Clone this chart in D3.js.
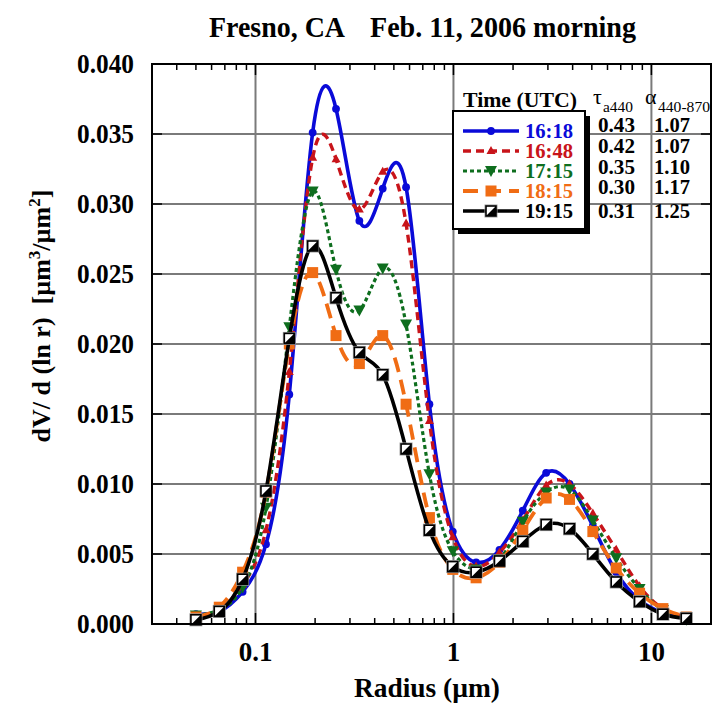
<!DOCTYPE html>
<html><head><meta charset="utf-8">
<script src="https://cdn.jsdelivr.net/npm/d3@7"></script>
<style>body{margin:0;background:#fff} svg{display:block} text{font-family:"Liberation Serif","Times New Roman",serif;} .pre{white-space:pre}</style>
</head><body><svg id="c" width="713" height="706"></svg>
<script>
// ---- data ----
const radius = [0.05, 0.065604, 0.086077, 0.112939, 0.148184, 0.194429, 0.255105, 0.334716, 0.439173, 0.576227, 0.756052, 0.991996, 1.301571, 1.707757, 2.240702, 2.939966, 3.857452, 5.06126, 6.640745, 8.713145, 11.432287, 15.0];
const timeLabels = ["16:18", "16:48", "17:15", "18:15", "19:15"];
const v1618 = [0.0007, 0.0009, 0.0023, 0.0057, 0.0164, 0.0351, 0.0368, 0.0288, 0.0311, 0.0312, 0.0157, 0.0066, 0.0044, 0.0053, 0.0081, 0.0108, 0.0100, 0.0070, 0.0037, 0.0017, 0.0008, 0.0004];
const v1648 = [0.0006, 0.0010, 0.0028, 0.0067, 0.0180, 0.0333, 0.0332, 0.0296, 0.0323, 0.0286, 0.0145, 0.0062, 0.0041, 0.0051, 0.0074, 0.0099, 0.0100, 0.0079, 0.0053, 0.0027, 0.0011, 0.0005];
const v1715 = [0.0006, 0.0010, 0.0026, 0.0083, 0.0212, 0.0309, 0.0253, 0.0224, 0.0254, 0.0214, 0.0107, 0.0052, 0.0039, 0.0046, 0.0073, 0.0094, 0.0096, 0.0074, 0.0047, 0.0025, 0.0010, 0.0003];
const v1815 = [0.0005, 0.0012, 0.0037, 0.0094, 0.0200, 0.0251, 0.0206, 0.0186, 0.0206, 0.0157, 0.0076, 0.0039, 0.0033, 0.0044, 0.0067, 0.0090, 0.0089, 0.0066, 0.0040, 0.0022, 0.0011, 0.0005];
const v1915 = [0.0003, 0.0009, 0.0032, 0.0095, 0.0204, 0.0270, 0.0233, 0.0194, 0.0178, 0.0125, 0.0067, 0.0041, 0.0037, 0.0045, 0.0059, 0.0071, 0.0068, 0.0050, 0.0030, 0.0016, 0.0007, 0.0004];
const tauValues = ["0.43", "0.42", "0.35", "0.30", "0.31"];
const alphaValues = ["1.07", "1.07", "1.10", "1.17", "1.25"];
const yTicks = [0, 0.005, 0.010, 0.015, 0.020, 0.025, 0.030, 0.035, 0.040];
const xMajorTicks = [0.1, 1, 10];
const xMinorTicks = [0.04,0.05,0.06,0.07,0.08,0.09,0.2,0.3,0.4,0.5,0.6,0.7,0.8,0.9,2,3,4,5,6,7,8,9];

// ---- styles ----
const allValues = [v1618, v1648, v1715, v1815, v1915];
const colors = ["#0a0ad8", "#c8141a", "#0e6e1e", "#f06c14", "#000000"];
const dashes = [null, "8,5", "4,3", "15,8", null];
const widths = [3.6, 3.4, 3.2, 3.8, 3.6];
const markers = ["circle", "triUp", "triDown", "square", "halfSquare"];

const svg = d3.select("#c");
const L = 152, R = 711, T = 64, B = 624;
const x = d3.scaleLog().domain([0.03, 20]).range([L, R]);
const y = d3.scaleLinear().domain([0, 0.04]).range([B, T]);

function txt(g, str, px, py, opts) {
  const t = g.append("text").attr("x", px).attr("y", py).text(str)
    .attr("font-size", opts.size).attr("font-weight", opts.weight || "bold")
    .attr("text-anchor", opts.anchor || "start").attr("fill", opts.fill || "#000");
  if (opts.len) t.attr("textLength", opts.len).attr("lengthAdjust", "spacingAndGlyphs");
  return t;
}

// grid
const grid = svg.append("g").attr("stroke", "#7a7a7a").attr("stroke-width", 2);
yTicks.forEach(v => { if (v > 0 && v < 0.04) grid.append("line").attr("x1", L).attr("x2", R).attr("y1", y(v)).attr("y2", y(v)); });
xMajorTicks.forEach(v => grid.append("line").attr("x1", x(v)).attr("x2", x(v)).attr("y1", T).attr("y2", B));

// ticks
const tk = svg.append("g").attr("stroke", "#000").attr("stroke-width", 1.5);
xMinorTicks.forEach(v => {
  tk.append("line").attr("x1", x(v)).attr("x2", x(v)).attr("y1", B).attr("y2", B - 6);
  tk.append("line").attr("x1", x(v)).attr("x2", x(v)).attr("y1", T).attr("y2", T + 6);
});
xMajorTicks.forEach(v => {
  tk.append("line").attr("x1", x(v)).attr("x2", x(v)).attr("y1", B).attr("y2", B - 11);
  tk.append("line").attr("x1", x(v)).attr("x2", x(v)).attr("y1", T).attr("y2", T + 11);
});
yTicks.forEach(v => {
  tk.append("line").attr("x1", L).attr("x2", L + 10).attr("y1", y(v)).attr("y2", y(v));
  tk.append("line").attr("x1", R).attr("x2", R - 10).attr("y1", y(v)).attr("y2", y(v));
});

// curves
const line = d3.line().x(d => x(d[0])).y(d => y(d[1])).curve(d3.curveNatural);
const plot = svg.append("g");
function marker(g, type, cx, cy, col) {
  if (type === "circle") g.append("circle").attr("cx", cx).attr("cy", cy).attr("r", 3.9).attr("fill", col);
  else if (type === "triUp") g.append("path").attr("d", `M${cx},${cy-5}L${cx+4.5},${cy+3}L${cx-4.5},${cy+3}Z`).attr("fill", col);
  else if (type === "triDown") g.append("path").attr("d", `M${cx-6},${cy-5}L${cx+6},${cy-5}L${cx},${cy+6}Z`).attr("fill", col);
  else if (type === "square") g.append("rect").attr("x", cx-5.5).attr("y", cy-5.5).attr("width", 11).attr("height", 11).attr("fill", col);
  else {
    g.append("rect").attr("x", cx-6).attr("y", cy-6).attr("width", 12).attr("height", 12).attr("fill", "none").attr("stroke", "#9a9a9a").attr("stroke-width", 1);
    g.append("rect").attr("x", cx-5).attr("y", cy-5).attr("width", 10).attr("height", 10).attr("fill", "#fff").attr("stroke", "#000").attr("stroke-width", 1.6);
    g.append("path").attr("d", `M${cx+5},${cy-5}L${cx+5},${cy+5}L${cx-5},${cy+5}Z`).attr("fill", "#000");
  }
}
allValues.forEach((vals, i) => {
  const pts = radius.map((r, j) => [r, vals[j]]);
  const p = plot.append("path").attr("d", line(pts)).attr("fill", "none").attr("stroke", colors[i]).attr("stroke-width", widths[i]);
  if (dashes[i]) p.attr("stroke-dasharray", dashes[i]);
  const mg = plot.append("g");
  pts.forEach(d => marker(mg, markers[i], x(d[0]), y(d[1]), colors[i]));
});

// frame
svg.append("rect").attr("x", L).attr("y", T).attr("width", R - L).attr("height", B - T).attr("fill", "none").attr("stroke", "#000").attr("stroke-width", 2);

// axis labels
const fmt = d3.format(".3f");
yTicks.forEach(v => txt(svg, fmt(v), 134, y(v) + 9, {size: 27, anchor: "end", len: 57}));
xMajorTicks.forEach(v => txt(svg, String(v), x(v), 661, {size: 27, anchor: "middle"}));
txt(svg, "Radius (\u00b5m)", 427, 697, {size: 27, anchor: "middle", len: 146});
const yt = svg.append("text").attr("class", "pre").attr("transform", "translate(50,316) rotate(-90)").attr("text-anchor", "middle")
  .attr("font-size", 26).attr("font-weight", "bold");
yt.append("tspan").text("dV/ d (ln r)  [\u00b5m");
yt.append("tspan").text("3").attr("font-size", 17).attr("dy", -10);
yt.append("tspan").text("/\u00b5m").attr("dy", 10);
yt.append("tspan").text("2").attr("font-size", 17).attr("dy", -10);
yt.append("tspan").text("]").attr("dy", 10);

// title
txt(svg, "Fresno, CA", 209, 37, {size: 29, len: 136});
txt(svg, "Feb. 11, 2006 morning", 370, 37, {size: 29, len: 266});

// legend
const lg = svg.append("g");
lg.append("rect").attr("x", 458).attr("y", 116).attr("width", 132).attr("height", 118).attr("fill", "#000");
lg.append("rect").attr("x", 453).attr("y", 111).attr("width", 132).attr("height", 118).attr("fill", "#fff").attr("stroke", "#000").attr("stroke-width", 2);
txt(svg, "Time (UTC)", 463, 107, {size: 20, len: 114});
timeLabels.forEach((lab, i) => {
  const cy = 131 + i * 20;
  const l = lg.append("line").attr("x1", 463).attr("x2", 519).attr("y1", cy).attr("y2", cy).attr("stroke", colors[i]).attr("stroke-width", widths[i]);
  if (dashes[i]) l.attr("stroke-dasharray", dashes[i]);
  marker(lg, markers[i], 491, cy, colors[i]);
  txt(lg, lab, 525, cy + 7, {size: 20, fill: colors[i], len: 48});
});
txt(svg, "\u03c4", 593, 104, {size: 22, weight: "normal"});
txt(svg, "a440", 603, 112, {size: 14, weight: "normal", len: 30});
txt(svg, "\u03b1", 645, 104, {size: 22, weight: "normal"});
txt(svg, "440-870", 658, 112, {size: 14, weight: "normal", len: 52});
const baselines = [132, 153, 173.5, 194, 218];
tauValues.forEach((v, i) => txt(svg, v, 598, baselines[i], {size: 20, len: 37}));
alphaValues.forEach((v, i) => txt(svg, v, 654, baselines[i], {size: 20, len: 36}));
</script></body></html>
